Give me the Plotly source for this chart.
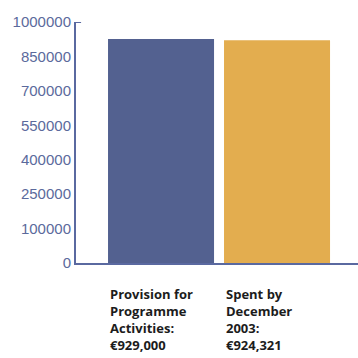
import numpy as np
import plotly.graph_objects as go

categories = ["Provision", "Spent"]
values = [929000, 924321]
bar_labels = [["Provision for", "Programme", "Activities:", "€929,000"],
              ["Spent by", "December", "2003:", "€924,321"]]
colors = ["#536190", "#e3ad4f"]
tick_labels = ["0", "100000", "250000", "400000", "550000", "700000", "850000", "1000000"]

axis_color = "#5a69a0"
label_color = "#5b6a9c"

fig = go.Figure()
fig.add_trace(go.Bar(x=categories, y=values, marker=dict(color=colors, line=dict(width=0)),
                     width=0.914, showlegend=False))

tickvals = np.linspace(0, 1000000, len(tick_labels))
fig.update_layout(
    width=358, height=358,
    margin=dict(l=76, r=0, t=22, b=95),
    paper_bgcolor="white", plot_bgcolor="white",
    xaxis=dict(range=[-0.733, 1.698], showticklabels=False, showgrid=False, zeroline=False,
               showline=True, linecolor=axis_color, linewidth=2, ticks=""),
    yaxis=dict(range=[0, 1000000], tickvals=tickvals, ticktext=tick_labels,
               showgrid=False, zeroline=False, showline=True, linecolor=axis_color, linewidth=2,
               ticks="", ticklabelstandoff=0,
               tickfont=dict(family="Liberation Sans, Arial", size=15, color=label_color)),
)

fig.add_shape(type="line", xref="paper", yref="y", x0=0, x1=0.018, y0=1000000, y1=1000000,
              line=dict(color=axis_color, width=2))

for c, lines in zip(categories, bar_labels):
    fig.add_annotation(x=c, y=0, xref="x", yref="y", text="<br>".join(lines), showarrow=False,
                       xanchor="left", yanchor="top", align="left", borderpad=0,
                       xshift=-52, yshift=-21,
                       font=dict(family="Open Sans", size=13, color="#1c1c1c", weight=700))

fig.write_html("out.html")
